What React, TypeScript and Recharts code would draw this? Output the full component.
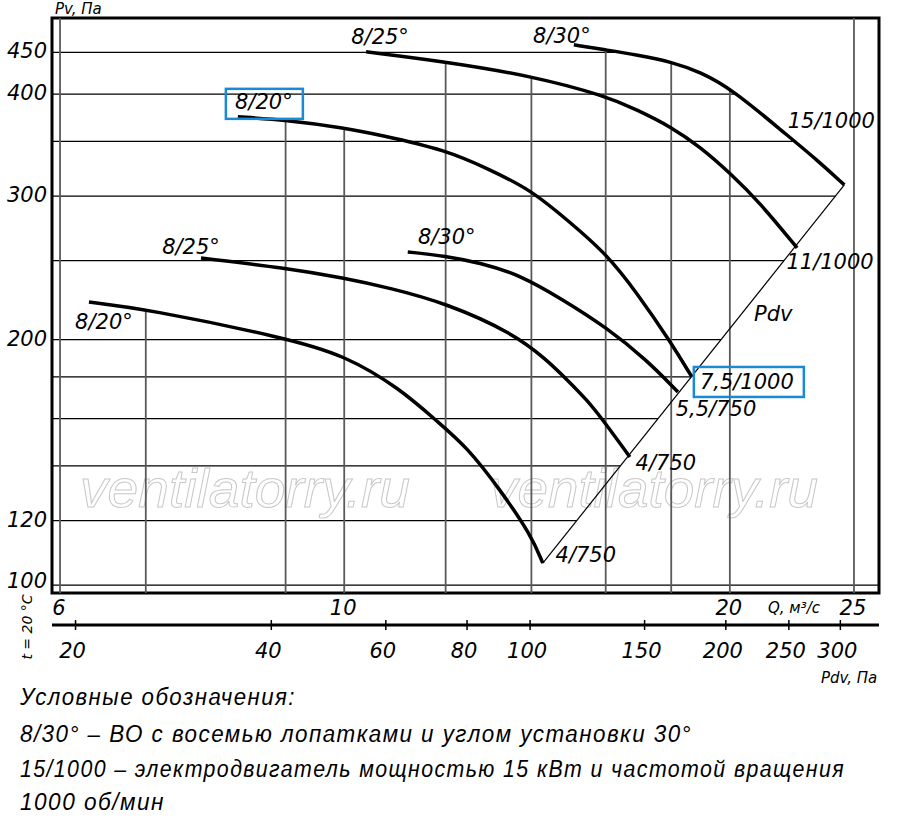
import { LineChart, Line, XAxis, YAxis, ReferenceLine, ReferenceArea, ReferenceDot } from 'recharts'

// Q, м³/с  (log axis)
const qTicks = [6, 10, 20, 25]
const qGrid = [6, 7, 9, 10, 12, 14, 16, 18, 20, 25]
const qDomain = [5.914, 26.15]

// Pv, Па (log axis)
const pvTicks = [100, 120, 200, 300, 400, 450]
const pvGrid = [100, 120, 140, 160, 180, 200, 250, 300, 350, 400, 450]
const pvDomain = [97.8, 496]

// Pdv, Па (second bottom scale)
const pdvTicks = [20, 40, 60, 80, 100, 150, 200, 250, 300]
const pdvDomain = [18.4, 344]

type Pt = [number, number]

// lower family (4/750, 5,5/750)
const low20: Pt[] = [[6.32, 222.4], [7, 218.1], [9, 201], [10, 191.5], [11.05, 174.3], [11.81, 158.9], [12.47, 147.7], [13.24, 130.8], [13.99, 115.2], [14.29, 106.4]]
const low25: Pt[] = [[7.73, 251.8], [9, 244.9], [10, 238], [10.86, 231.4], [12, 221.8], [13.54, 203.8], [14.4, 188.8], [14.93, 178.5], [15.47, 168.7], [15.92, 159.4], [16.71, 143.6]]
const low30: Pt[] = [[11.21, 256.2], [12, 253.3], [12.77, 248.4], [13.72, 240.1], [14.82, 223.8], [16, 207.3], [17.23, 188.8], [18.22, 172.5]]

// upper family (7,5/1000, 11/1000, 15/1000)
const up20: Pt[] = [[8.26, 375.2], [9, 372], [10, 363.7], [10.66, 356.6], [12, 341.8], [13, 323.1], [13.99, 305.2], [14.93, 280.4], [16, 255.5], [16.93, 228.1], [18, 198.2], [18.68, 180]]
const up25: Pt[] = [[10.4, 450.8], [12, 438.3], [14, 421.2], [16, 398], [16.93, 382.7], [18, 364.7], [18.96, 344.7], [20, 320.3], [21.12, 294.2], [22.57, 259.1]]
const up30: Pt[] = [[15.11, 459.8], [16, 453.3], [16.93, 446.9], [18, 438.3], [18.96, 426], [20.11, 404.9], [22.01, 359.6], [23.39, 332.3], [24.57, 309.6]]

// dynamic pressure line through the curve ends
const pdvLine: Pt[] = [[14.29, 106.4], [24.57, 309.6]]

const curves = [low20, low25, low30, up20, up25, up30]

const toRows = (pts: Pt[]) => pts.map(([q, pv]) => ({ q, pv }))

const lg = Math.log10

function pvAt(c: Pt[], q: number) {
  for (let i = 0; i < c.length - 1; i++) {
    const [q0, p0] = c[i]
    const [q1, p1] = c[i + 1]
    if (q >= q0 && q <= q1) {
      const t = (lg(q) - lg(q0)) / (lg(q1) - lg(q0))
      return 10 ** (lg(p0) + t * (lg(p1) - lg(p0)))
    }
  }
  return null
}

function qAt(c: Pt[], pv: number) {
  for (let i = 0; i < c.length - 1; i++) {
    const [q0, p0] = c[i]
    const [q1, p1] = c[i + 1]
    if ((pv - p0) * (pv - p1) <= 0) {
      const t = (lg(pv) - lg(p0)) / (lg(p1) - lg(p0))
      return 10 ** (lg(q0) + t * (lg(q1) - lg(q0)))
    }
  }
  return null
}

// vertical grid lines start at the highest curve above them
const vTop = (q: number) => {
  const vals = curves.map(c => pvAt(c, q)).filter((v): v is number => v !== null)
  return vals.length ? Math.max(...vals) : pvDomain[1]
}

// horizontal grid lines stop at the Pdv line / the 15/1000 curve
const hEnd = (pv: number) => {
  if (pv >= pdvLine[0][1] && pv <= pdvLine[1][1]) return qAt(pdvLine, pv) as number
  if (pv > pdvLine[1][1]) return qAt(up30, pv) ?? qDomain[1]
  return qDomain[1]
}

const font = "'DejaVu Sans', 'Liberation Sans', sans-serif"
const legendFont = "'Liberation Sans', Arial, sans-serif"

type Lbl = { text: string; at: Pt; dx: number; dy: number; box?: [number, number, number, number] }

const labels: Lbl[] = [
  { text: '8/20°', at: low20[0], dx: 15, dy: 20 },
  { text: '8/25°', at: low25[0], dx: -10, dy: -11 },
  { text: '8/30°', at: low30[0], dx: 39, dy: -15 },
  { text: '8/20°', at: up20[0], dx: 26, dy: -15, box: [-38, -13, 77, 30] },
  { text: '8/25°', at: up25[0], dx: 14, dy: -15 },
  { text: '8/30°', at: up30[0], dx: -12, dy: -9 },
  { text: '15/1000', at: up30[up30.length - 1], dx: -13, dy: -64 },
  { text: '11/1000', at: up25[up25.length - 1], dx: 33, dy: 14 },
  { text: 'Pdv', at: pdvLine[1], dx: -71, dy: 129 },
  { text: '7,5/1000', at: up20[up20.length - 1], dx: 55, dy: 5, box: [-53, -15, 110, 30] },
  { text: '5,5/750', at: low30[low30.length - 1], dx: 38, dy: 17 },
  { text: '4/750', at: low25[low25.length - 1], dx: 36, dy: 6 },
  { text: '4/750', at: low20[low20.length - 1], dx: 43, dy: -8 },
]

const YTick = ({ x, y, payload }: any) => (
  <text x={x} y={y} dy={payload.value === 100 ? -4 : -1} textAnchor="end" dominantBaseline="central"
    fontFamily={font} fontStyle="italic" fontSize={21} fill="#000">{payload.value}</text>
)

const QTick = ({ x, y, payload }: any) => (
  <text x={x - 1} y={y + 22} textAnchor="middle" fontFamily={font} fontStyle="italic" fontSize={21} fill="#000">
    {payload.value}
  </text>
)

const PdvTick = ({ x, y, payload }: any) => (
  <g>
    <line x1={x} x2={x} y1={y - 5} y2={y + 5} stroke="#000" strokeWidth={1.5} />
    <text x={x - 3} y={y + 33} textAnchor="middle" fontFamily={font} fontStyle="italic" fontSize={21} fill="#000">
      {payload.value}
    </text>
  </g>
)

const legend = [
  { text: 'Условные обозначения:', y: 705, w: 276 },
  { text: '8/30° – ВО с восемью лопатками и углом установки 30°', y: 742, w: 672 },
  { text: '15/1000 – электродвигатель мощностью 15 кВт и частотой вращения', y: 777, w: 825 },
  { text: '1000 об/мин', y: 810, w: 145 },
]

// the Pdv scale needs a series on it, otherwise the axis is not drawn
const pdvRows = pdvTicks.map(pdv => ({ pdv, pv: pvDomain[0] }))

export default function App() {
  return (
    <div style={{ position: 'absolute', left: 0, top: 0, width: 900, height: 817, background: '#fff' }}>
      <svg width={900} height={817} style={{ position: 'absolute', left: 0, top: 0 }}>
        <text x={80} y={507} fontFamily="'Liberation Sans', sans-serif" fontStyle="italic" fontSize={54}
          textLength={330} lengthAdjust="spacingAndGlyphs" fill="none" stroke="#c8c8c8" strokeWidth={1}>ventilatorry.ru</text>
        <text x={490} y={507} fontFamily="'Liberation Sans', sans-serif" fontStyle="italic" fontSize={54}
          textLength={328} lengthAdjust="spacingAndGlyphs" fill="none" stroke="#c8c8c8" strokeWidth={1}>ventilatorry.ru</text>
        <text x={55} y={14} fontFamily={font} fontStyle="italic" fontSize={15}>Pv, Па</text>
        <text x={768} y={613} fontFamily={font} fontStyle="italic" fontSize={15}>Q, м³/с</text>
        <text x={821} y={683} fontFamily={font} fontStyle="italic" fontSize={15}>Pdv, Па</text>
        <text x={32} y={627} transform="rotate(-90 32 627)" textAnchor="middle" fontFamily={font} fontStyle="italic" fontSize={14}>
          t = 20 °C
        </text>
        {legend.map(l => (
          <text key={l.y} x={20} y={l.y} fontFamily={legendFont} fontStyle="italic" fontSize={23} letterSpacing={1.5}
            textLength={l.w} lengthAdjust="spacingAndGlyphs" fill="#000">{l.text}</text>
        ))}
      </svg>
      <div style={{ position: 'absolute', left: 0, top: 0 }}>
        <LineChart width={900} height={700} margin={{ top: 18, right: 21, left: 0, bottom: 25 }}>
          <XAxis xAxisId="q" type="number" dataKey="q" scale="log" domain={qDomain} allowDataOverflow
            ticks={qTicks} height={32} axisLine={false} tickLine={false} tickSize={0} tickMargin={0}
            tick={<QTick />} interval={0} />
          <XAxis xAxisId="r" type="number" dataKey="pdv" scale="log" domain={pdvDomain} allowDataOverflow
            ticks={pdvTicks} height={50} axisLine={{ stroke: '#000', strokeWidth: 3 }} tickLine={false}
            tickSize={0} tickMargin={0} tick={<PdvTick />} interval={0} />
          <YAxis type="number" dataKey="pv" scale="log" domain={pvDomain} allowDataOverflow
            ticks={pvTicks} width={52} axisLine={false} tickLine={false} tickSize={0} tickMargin={5}
            tick={<YTick />} interval={0} />

          {pvGrid.map(pv => (
            <ReferenceLine key={'h' + pv} xAxisId="q" ifOverflow="visible" stroke="#000" strokeWidth={1.2}
              segment={[{ x: qDomain[0], y: pv }, { x: hEnd(pv), y: pv }]} />
          ))}
          {qGrid.map(q => (
            <ReferenceLine key={'v' + q} xAxisId="q" ifOverflow="visible" stroke="#5a5a5a" strokeWidth={1.8}
              segment={[{ x: q, y: pvDomain[0] }, { x: q, y: vTop(q) }]} />
          ))}

          <Line xAxisId="r" data={pdvRows} dataKey="pv" stroke="none" strokeWidth={0} dot={false}
            activeDot={false} legendType="none" isAnimationActive={false} />
          <Line xAxisId="q" data={toRows(pdvLine)} dataKey="pv" type="linear" stroke="#000" strokeWidth={1.2}
            dot={false} isAnimationActive={false} />
          {curves.map((c, i) => (
            <Line key={i} xAxisId="q" data={toRows(c)} dataKey="pv" type="basis" stroke="#000"
              strokeWidth={3.5} dot={false} isAnimationActive={false} />
          ))}

          <ReferenceArea xAxisId="q" x1={qDomain[0]} x2={qDomain[1]} y1={pvDomain[0]} y2={pvDomain[1]}
            ifOverflow="visible" fill="none" fillOpacity={0} stroke="#000" strokeWidth={3} />

          {labels.map((l, i) => (
            <ReferenceDot key={'l' + i} xAxisId="q" x={l.at[0]} y={l.at[1]} r={0} ifOverflow="visible"
              shape={(p: any) => (
                <g>
                  {l.box && (
                    <rect x={p.cx + l.dx + l.box[0]} y={p.cy + l.dy + l.box[1]} width={l.box[2]} height={l.box[3]}
                      fill="none" stroke="#1a8ad6" strokeWidth={2.5} />
                  )}
                  <text x={p.cx + l.dx} y={p.cy + l.dy} textAnchor="middle" dominantBaseline="central"
                    fontFamily={font} fontStyle="italic" fontSize={21} fill="#000">{l.text}</text>
                </g>
              )} />
          ))}
        </LineChart>
      </div>
    </div>
  )
}
